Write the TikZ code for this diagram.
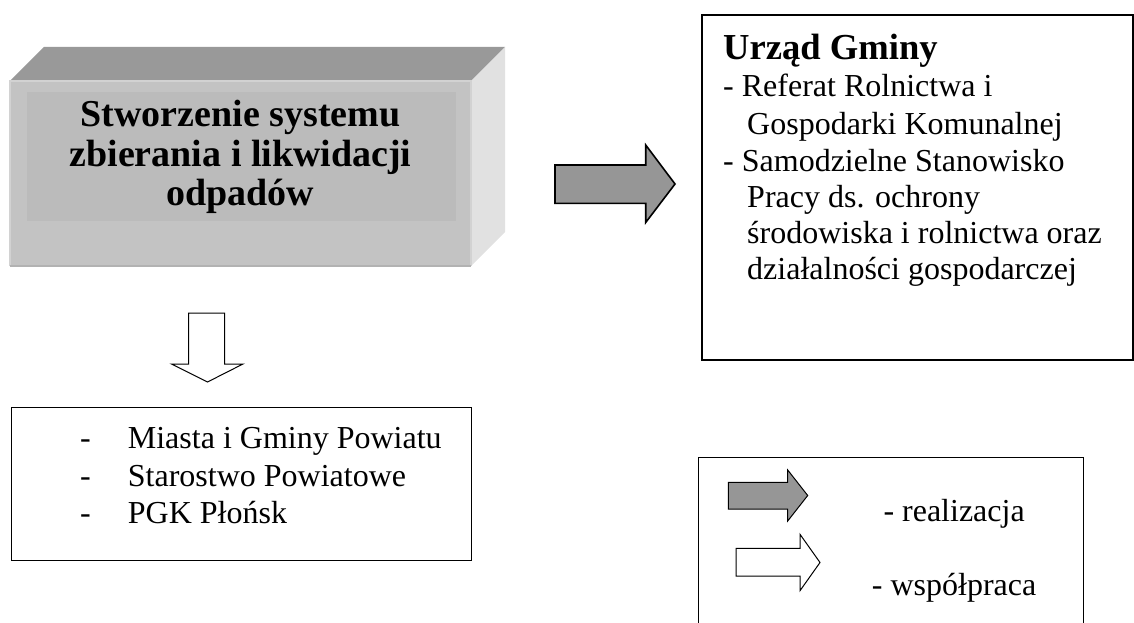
\documentclass[tikz,border=0pt]{standalone}
\usepackage{fontspec}
\setmainfont{Liberation Serif}
\definecolor{frontgray}{HTML}{C3C3C3}
\definecolor{innergray}{HTML}{BBBBBB}
\definecolor{topgray}{HTML}{999999}
\definecolor{sidegray}{HTML}{E1E1E1}
\definecolor{edgegray}{HTML}{D2D2D2}
\definecolor{arrowgray}{HTML}{969696}
\tikzset{
  framebox/.style={draw=black, line width=1.3pt},
  bigarrow/.style={draw=black, line width=1.6pt, fill=arrowgray, line join=miter},
  smallgrayarrow/.style={draw=black, line width=1pt, fill=arrowgray, line join=miter},
  hollowarrow/.style={draw=black, line width=1pt, fill=white, line join=miter},
  bodytext/.style={font=\fontsize{32}{37}\selectfont, inner sep=0pt, anchor=base west},
  titletext/.style={font=\fontsize{36.6}{42}\selectfont\bfseries, inner sep=0pt, anchor=base west},
  boxtext/.style={font=\fontsize{38}{39}\selectfont\bfseries, inner sep=0pt, anchor=base},
}
\begin{document}
\begin{tikzpicture}[x=1pt,y=-1pt]
\useasboundingbox (0,0) rectangle (1134,623);
\clip (0,0) rectangle (1134,623);

% 3D box
\coordinate (fnw) at (10,81);
\coordinate (fne) at (471,81);
\coordinate (fse) at (471,266);
\coordinate (fsw) at (10,266);
\coordinate (bnw) at (44,47);
\coordinate (bne) at (505,47);
\coordinate (bse) at (505,232);
\fill[topgray] (fnw) -- (bnw) -- (bne) -- (fne) -- cycle;
\fill[sidegray] (fne) -- (bne) -- (bse) -- (fse) -- cycle;
\fill[frontgray] (fnw) rectangle (fse);
\draw[edgegray, line width=1.2pt] (fsw) -- (fnw) -- (fne) -- (fse);
\draw[black!30, line width=1.2pt] (fsw) -- (fse);
\fill[innergray] (27,92) rectangle (456,221);
\node[boxtext] (b1) at (240.5,127) {Stworzenie systemu};
\node[boxtext] (b2) at (240.5,166.5) {zbierania i likwidacji};
\node[boxtext] (b3) at (240.5,205.5) {odpadów};

% realization arrow
\draw[bigarrow] (555,165) -- (645.7,165) -- (645.7,145) -- (675,184) -- (645.7,222.5) -- (645.7,203.4) -- (555,203.4) -- cycle;

% Urzad Gminy box
\draw[framebox] (702,15) rectangle (1133,360);
\node[titletext] (u0) at (723,60) {Urząd Gminy};
\node[bodytext] (u1) at (723,97) {- Referat Rolnictwa i};
\node[bodytext] (u2) at (747,135) {Gospodarki Komunalnej};
\node[bodytext] (u3) at (723,171) {- Samodzielne Stanowisko};
\node[bodytext] (u4) at (747,207) {Pracy ds. ochrony};
\node[bodytext] (u5) at (747,243) {środowiska i rolnictwa oraz};
\node[bodytext] (u6) at (747,279) {działalności gospodarczej};

% cooperation arrow (down)
\draw[hollowarrow] (188.5,313) -- (224.5,313) -- (224.5,364) -- (243,364) -- (207.5,382) -- (171.5,364) -- (188.5,364) -- cycle;

% list box
\draw[framebox] (11.5,407.5) rectangle (471.5,560.5);
\node[bodytext] (d1) at (80,448.3) {-};
\node[bodytext] (l1) at (127.7,448.3) {Miasta i Gminy Powiatu};
\node[bodytext] (d2) at (80,486.7) {-};
\node[bodytext] (l2) at (127.7,486.7) {Starostwo Powiatowe};
\node[bodytext] (d3) at (80,523.3) {-};
\node[bodytext] (l3) at (127.7,523.3) {PGK Płońsk};

% legend
\draw[framebox] (698.3,640) -- (698.3,457.3) -- (1083.3,457.3) -- (1083.3,640);
\draw[smallgrayarrow] (728.3,482.3) -- (787.7,482.3) -- (787.7,470) -- (807.7,495.5) -- (787.7,521) -- (787.7,509) -- (728.3,509) -- cycle;
\node[bodytext] (lg1) at (883.3,521.7) {- realizacja};
\draw[hollowarrow] (736,548.3) -- (800,548.3) -- (800,534.3) -- (820,562.5) -- (800,590.7) -- (800,576) -- (736,576) -- cycle;
\node[bodytext] (lg2) at (871.7,595) {- współpraca};
\end{tikzpicture}
\end{document}
